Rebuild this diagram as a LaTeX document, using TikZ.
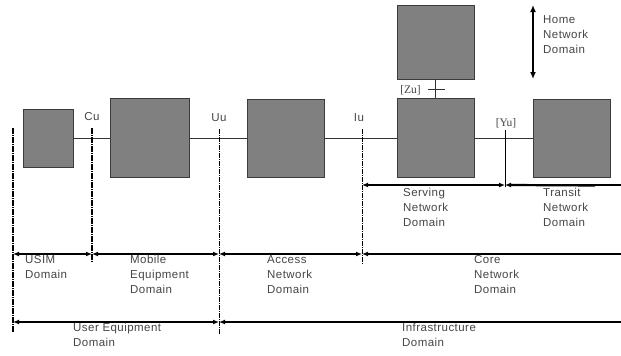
\documentclass[tikz,border=0pt]{standalone}
\usepackage{fontspec}
\setmainfont{Liberation Sans}[LetterSpace=4]
\newfontfamily\serifx{Liberation Serif}
\usetikzlibrary{arrows.meta,calc}
\definecolor{boxfill}{RGB}{128,128,128}
\definecolor{boxline}{RGB}{60,60,60}
\definecolor{txt}{RGB}{70,70,70}
\begin{document}
\begin{tikzpicture}[x=1pt,y=-1pt,
  font=\fontsize{11.5}{15}\selectfont,
  blk/.style={draw=boxline,fill=boxfill,line width=0.8pt,inner sep=0pt},
  lnk/.style={line width=0.7pt,black!80},
  divthick/.style={line width=1.8pt,dash pattern=on 6pt off 1pt on 1pt off 1pt},
  divthin/.style={line width=0.9pt,dash pattern=on 5pt off 1pt on 1pt off 1pt},
  dom/.style={line width=1.4pt,{Latex[length=6pt,width=5pt]}-{Latex[length=6pt,width=5pt]}},
  domr/.style={line width=1.4pt,{Latex[length=6pt,width=5pt]}-},
  lbl/.style={text=txt,align=left,anchor=north west,inner sep=0pt},
  ifc/.style={text=txt,inner sep=0pt}]
\useasboundingbox[fill=white] (0,0) rectangle (621,356);
% boxes
\node[blk,minimum width=50pt,minimum height=58pt] (usim) at (48,138) {};
\node[blk,minimum width=79pt,minimum height=79pt] (me) at (149.5,138) {};
\node[blk,minimum width=77pt,minimum height=78pt] (an) at (285.5,138) {};
\node[blk,minimum width=77pt,minimum height=79pt] (sn) at (435.5,138) {};
\node[blk,minimum width=77pt,minimum height=74pt] (hn) at (435.5,42) {};
\node[blk,minimum width=77pt,minimum height=78pt] (tn) at (571.5,138) {};
% links
\draw[lnk] (usim.east) -- (me.west);
\draw[lnk] (me.east) -- (an.west);
\draw[lnk] (an.east) -- (sn.west);
\draw[lnk] (sn.east) -- (tn.west);
\draw[lnk] (hn.south) -- (sn.north);
\coordinate (zt) at ($(hn.south)!0.55!(sn.north)$);
\draw[lnk] ($(zt)+(-8,0)$) -- ($(zt)+(9,0)$);
\node[ifc,anchor=east,font=\serifx\fontsize{11.5}{12}\selectfont] (zu) at (421,90) {[Zu]};
% dividers
\coordinate (d0t) at (13,128); \coordinate (d0b) at (13,332);
\coordinate (d1t) at (92,128); \coordinate (d1b) at (92,263);
\coordinate (d2t) at (219,129); \coordinate (d2b) at (219,334);
\coordinate (d3t) at (362,129); \coordinate (d3b) at (362,264);
\coordinate (d4t) at (505,130); \coordinate (d4b) at (505,187);
\draw[divthick] (d0t) -- (d0b);
\draw[divthick] (d1t) -- (d1b);
\draw[divthin] (d2t) -- (d2b);
\draw[divthin] (d3t) -- (d3b);
\draw[line width=1pt] (d4t) -- (d4b);
% interface labels
\node[ifc] (cu) at (92,117) {Cu};
\node[ifc] (uu) at (219,118) {Uu};
\node[ifc] (iu) at (359,118) {Iu};
\node[ifc,font=\serifx\fontsize{11.5}{12}\selectfont] (yu) at (506,123) {[Yu]};
% domain arrows row 1
\coordinate (s1) at (362,185); \coordinate (s2) at (505,185); \coordinate (s3) at (621,185);
\draw[dom] (s1) -- (s2);
\draw[domr] (s2) -- (s3);
\draw[line width=2.2pt] ($(s2)+(6,0)$) -- (595,185.5);
% row 2
\coordinate (a0) at (13,254); \coordinate (a1) at (92,254); \coordinate (a2) at (219,254);
\coordinate (a3) at (362,254); \coordinate (a4) at (621,254);
\draw[dom] (a0) -- (a1);
\draw[dom] (a1) -- (a2);
\draw[dom] (a2) -- (a3);
\draw[domr] (a3) -- (a4);
% row 3
\coordinate (b0) at (13,322); \coordinate (b1) at (219,322); \coordinate (b2) at (621,322);
\draw[dom] (b0) -- (b1);
\draw[domr] (b1) -- (b2);
% home arrow
\coordinate (h1) at (533,5); \coordinate (h2) at (533,79);
\draw[line width=1.8pt,{Latex[length=7pt,width=6pt]}-{Latex[length=7pt,width=6pt]}] (h1) -- (h2);
% domain labels
\node[lbl] (thn) at (543,15) {Home\\Network\\Domain};
\node[lbl] (tsn) at (403,188) {Serving\\Network\\Domain};
\node[lbl] (ttn) at (543,188) {Transit\\Network\\Domain};
\node[lbl] (tusim) at (25,255) {USIM\\Domain};
\node[lbl] (tme) at (130,255) {Mobile\\Equipment\\Domain};
\node[lbl] (tan) at (267,255) {Access\\Network\\Domain};
\node[lbl] (tcn) at (474,255) {Core\\Network\\Domain};
\node[lbl] (tue) at (73,323) {User Equipment\\Domain};
\node[lbl] (tin) at (402,323) {Infrastructure\\Domain};
\end{tikzpicture}
\end{document}
